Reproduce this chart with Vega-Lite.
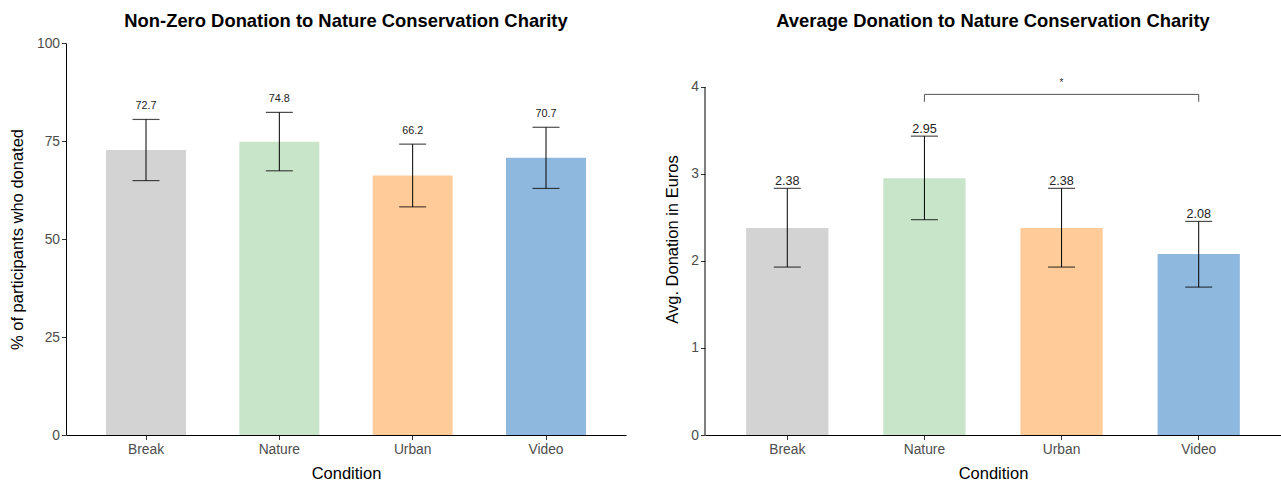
{
  "$schema": "https://vega.github.io/schema/vega-lite/v6.json",
  "padding": {"left": 9, "top": 11, "right": 0, "bottom": 0},
  "spacing": 38,
  "background": "white",
  "config": {
    "font": "Liberation Sans",
    "view": {"stroke": null},
    "axis": {
      "grid": false,
      "domainColor": "black",
      "tickColor": "#333333",
      "tickSize": 4.5,
      "labelColor": "#4D4D4D",
      "labelFontSize": 13.8,
      "labelFont": "Liberation Sans",
      "titleFont": "Liberation Sans",
      "titleFontSize": 16.5,
      "titleFontWeight": "normal",
      "titleColor": "black",
      "labelPadding": 2
    },
    "title": {"font": "Liberation Sans", "fontSize": 18.4, "fontWeight": "bold", "color": "black", "anchor": "middle", "frame": "group"}
  },
  "datasets": {
    "pct": [
      {"condition": "Break", "value": 72.7, "lo": 64.9, "hi": 80.5},
      {"condition": "Nature", "value": 74.8, "lo": 67.4, "hi": 82.3},
      {"condition": "Urban", "value": 66.2, "lo": 58.2, "hi": 74.2},
      {"condition": "Video", "value": 70.7, "lo": 62.9, "hi": 78.5}
    ],
    "avg": [
      {"condition": "Break", "value": 2.38, "lo": 1.93, "hi": 2.835},
      {"condition": "Nature", "value": 2.95, "lo": 2.475, "hi": 3.435},
      {"condition": "Urban", "value": 2.38, "lo": 1.93, "hi": 2.835},
      {"condition": "Video", "value": 2.08, "lo": 1.70, "hi": 2.455}
    ],
    "bracket": [
      {"condition": "Nature", "y": 3.83, "seq": 1},
      {"condition": "Nature", "y": 3.915, "seq": 2},
      {"condition": "Video", "y": 3.915, "seq": 3},
      {"condition": "Video", "y": 3.83, "seq": 4}
    ],
    "sig": [
      {"condition": "Urban", "y": 4.05, "label": "*"}
    ]
  },
  "hconcat": [
    {
      "width": 560,
      "height": 392,
      "title": {"text": "Non-Zero Donation to Nature Conservation Charity", "offset": 6},
      "data": {"name": "pct"},
      "encoding": {
        "x": {
          "field": "condition", "type": "nominal",
          "sort": ["Break", "Nature", "Urban", "Video"],
          "scale": {"paddingInner": 0.4, "paddingOuter": 0.3},
          "axis": {"title": "Condition", "labelAngle": 0, "labelPadding": 3, "titlePadding": 9.5}
        }
      },
      "layer": [
        {
          "mark": {"type": "bar"},
          "encoding": {
            "y": {"field": "value", "type": "quantitative", "scale": {"domain": [0, 100], "nice": false},
                  "axis": {"title": "% of participants who donated", "values": [0, 25, 50, 75, 100], "titlePadding": 11}},
            "color": {"field": "condition", "type": "nominal", "legend": null,
                      "scale": {"domain": ["Break", "Nature", "Urban", "Video"], "range": ["#D3D3D3", "#C9E5C9", "#FFCC99", "#8FB8DE"]}}
          }
        },
        {
          "mark": {"type": "rule", "color": "black", "strokeWidth": 1},
          "encoding": {"y": {"field": "lo", "type": "quantitative"}, "y2": {"field": "hi"}}
        },
        {
          "mark": {"type": "tick", "color": "black", "size": 27, "thickness": 1.2},
          "encoding": {"y": {"field": "hi", "type": "quantitative"}}
        },
        {
          "mark": {"type": "tick", "color": "black", "size": 27, "thickness": 1.2},
          "encoding": {"y": {"field": "lo", "type": "quantitative"}}
        },
        {
          "mark": {"type": "text", "baseline": "alphabetic", "dy": -10, "fontSize": 10.8, "color": "#222222"},
          "encoding": {"y": {"field": "hi", "type": "quantitative"}, "text": {"field": "value", "type": "quantitative", "format": ".1f"}}
        }
      ]
    },
    {
      "width": 576,
      "height": 392,
      "title": {"text": "Average Donation to Nature Conservation Charity", "offset": 13},
      "resolve": {"scale": {"x": "independent"}, "axis": {"x": "independent"}},
      "layer": [
        {
          "encoding": {
            "x": {
              "field": "condition", "type": "nominal",
              "sort": ["Break", "Nature", "Urban", "Video"],
              "scale": {"paddingInner": 0.4, "paddingOuter": 0.3},
              "axis": {"title": "Condition", "labelAngle": 0, "labelPadding": 3, "titlePadding": 9.5, "orient": "bottom"}
            }
          },
          "layer": [
            {
              "data": {"name": "avg"},
              "layer": [
                {
                  "mark": {"type": "bar"},
                  "encoding": {
                    "y": {"field": "value", "type": "quantitative", "scale": {"domain": [0, 4.5057], "nice": false, "zero": true},
                          "axis": {"title": "Avg. Donation in Euros", "values": [0, 1, 2, 3, 4], "format": "d", "titlePadding": 10, "domain": false}},
                    "color": {"field": "condition", "type": "nominal", "legend": null,
                              "scale": {"domain": ["Break", "Nature", "Urban", "Video"], "range": ["#D3D3D3", "#C9E5C9", "#FFCC99", "#8FB8DE"]}}
                  }
                },
                {
                  "mark": {"type": "rule", "color": "black", "strokeWidth": 1},
                  "encoding": {"y": {"field": "lo", "type": "quantitative"}, "y2": {"field": "hi"}}
                },
                {
                  "mark": {"type": "tick", "color": "black", "size": 27, "thickness": 1.2},
                  "encoding": {"y": {"field": "hi", "type": "quantitative"}}
                },
                {
                  "mark": {"type": "tick", "color": "black", "size": 27, "thickness": 1.2},
                  "encoding": {"y": {"field": "lo", "type": "quantitative"}}
                },
                {
                  "mark": {"type": "text", "baseline": "alphabetic", "dy": -3, "fontSize": 12.6, "color": "#222222"},
                  "encoding": {"y": {"field": "hi", "type": "quantitative"}, "text": {"field": "value", "type": "quantitative", "format": ".2f"}}
                }
              ]
            },
            {
              "data": {"name": "bracket"},
              "mark": {"type": "line", "color": "#555555", "strokeWidth": 1, "interpolate": "linear"},
              "encoding": {
                "y": {"field": "y", "type": "quantitative"},
                "order": {"field": "seq", "type": "quantitative"}
              }
            },
            {
              "data": {"name": "sig"},
              "mark": {"type": "text", "fontSize": 10, "color": "#333333", "baseline": "middle"},
              "encoding": {
                "y": {"field": "y", "type": "quantitative"},
                "text": {"field": "label"}
              }
            }
          ]
        },
        {
          "data": {"values": [{"axis": "y"}]},
          "mark": {"type": "rule", "color": "black", "strokeWidth": 1},
          "encoding": {
            "x": {"datum": 0, "type": "quantitative", "scale": {"domain": [0, 1]}, "axis": null},
            "y": {"datum": 0, "type": "quantitative"},
            "y2": {"datum": 4}
          }
        }
      ]
    }
  ]
}
